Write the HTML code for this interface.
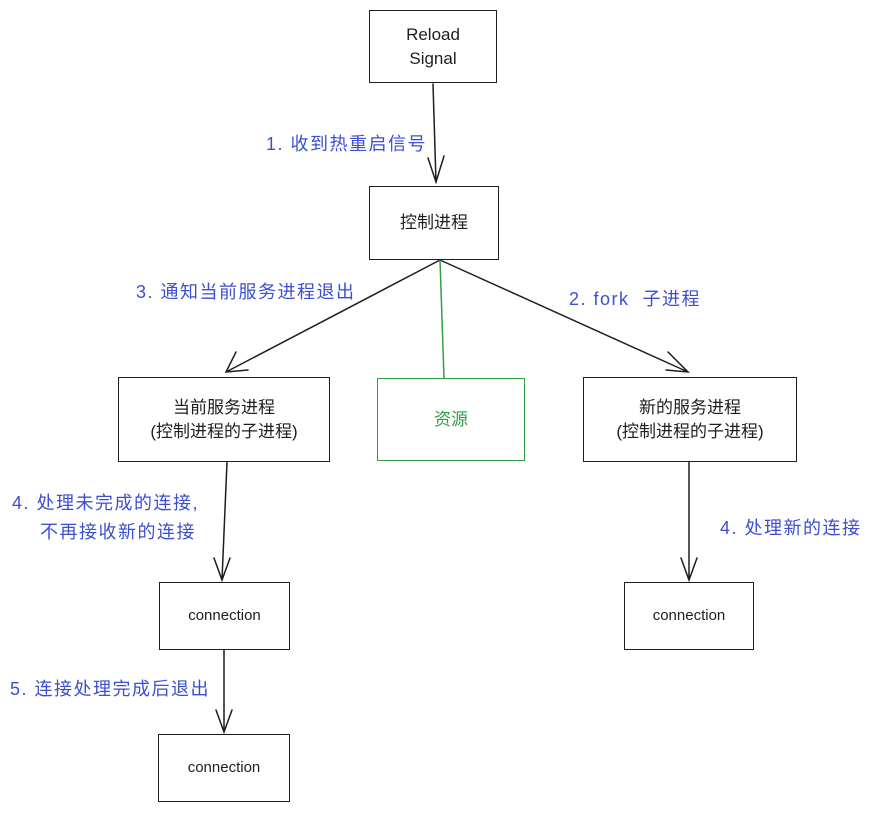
<!DOCTYPE html>
<html><head><meta charset="utf-8">
<style>
html,body{margin:0;padding:0;background:#fff;}
body{width:879px;height:814px;position:relative;overflow:hidden;font-family:"Liberation Sans","Noto Sans CJK SC",sans-serif;}
.b{position:absolute;border:1.6px solid #1e1e1e;box-sizing:border-box;display:flex;align-items:center;justify-content:center;text-align:center;font-size:17px;color:#1e1e1e;line-height:24px;}
.l{position:absolute;color:#3b4fd0;font-size:18px;letter-spacing:1.5px;white-space:nowrap;line-height:24px;}
</style></head><body>
<svg width="879" height="814" style="position:absolute;left:0;top:0" fill="none" stroke="#1e1e1e" stroke-width="1.5" stroke-linecap="round">
<path d="M433 84 L436 182 M428 158 L436 182 L444 156"/>
<path d="M440 260 L226 372 M236 352 L226 372 L248 370"/>
<path d="M440 260 L688 372 M668 352 L688 372 L666 370"/>
<path d="M440 260 L444 378" stroke="#2f9e44"/>
<path d="M227 462 L222 580 M214 558 L222 580 L230 558"/>
<path d="M689 462 L689 580 M681 558 L689 580 L697 558"/>
<path d="M224 650 L224 732 M216 710 L224 732 L232 710"/>
</svg>
<div class="b" style="left:369px;top:10px;width:128px;height:73px;">Reload<br>Signal</div>
<div class="b" style="left:369px;top:186px;width:130px;height:74px;">控制进程</div>
<div class="b" style="left:118px;top:377px;width:212px;height:85px;">当前服务进程<br>(控制进程的子进程)</div>
<div class="b" style="left:377px;top:378px;width:148px;height:83px;border-color:#2f9e44;color:#2f9e44;">资源</div>
<div class="b" style="left:583px;top:377px;width:214px;height:85px;">新的服务进程<br>(控制进程的子进程)</div>
<div class="b" style="left:159px;top:582px;width:131px;height:68px;font-size:15px;">connection</div>
<div class="b" style="left:624px;top:582px;width:130px;height:68px;font-size:15px;">connection</div>
<div class="b" style="left:158px;top:734px;width:132px;height:68px;font-size:15px;">connection</div>
<div class="l" style="left:266px;top:132px;">1. 收到热重启信号</div>
<div class="l" style="left:136px;top:280px;">3. 通知当前服务进程退出</div>
<div class="l" style="left:569px;top:287px;">2. fork &nbsp;子进程</div>
<div class="l" style="left:12px;top:491px;">4. 处理未完成的连接,</div>
<div class="l" style="left:40px;top:520px;">不再接收新的连接</div>
<div class="l" style="left:720px;top:516px;">4. 处理新的连接</div>
<div class="l" style="left:10px;top:677px;">5. 连接处理完成后退出</div>
</body></html>
